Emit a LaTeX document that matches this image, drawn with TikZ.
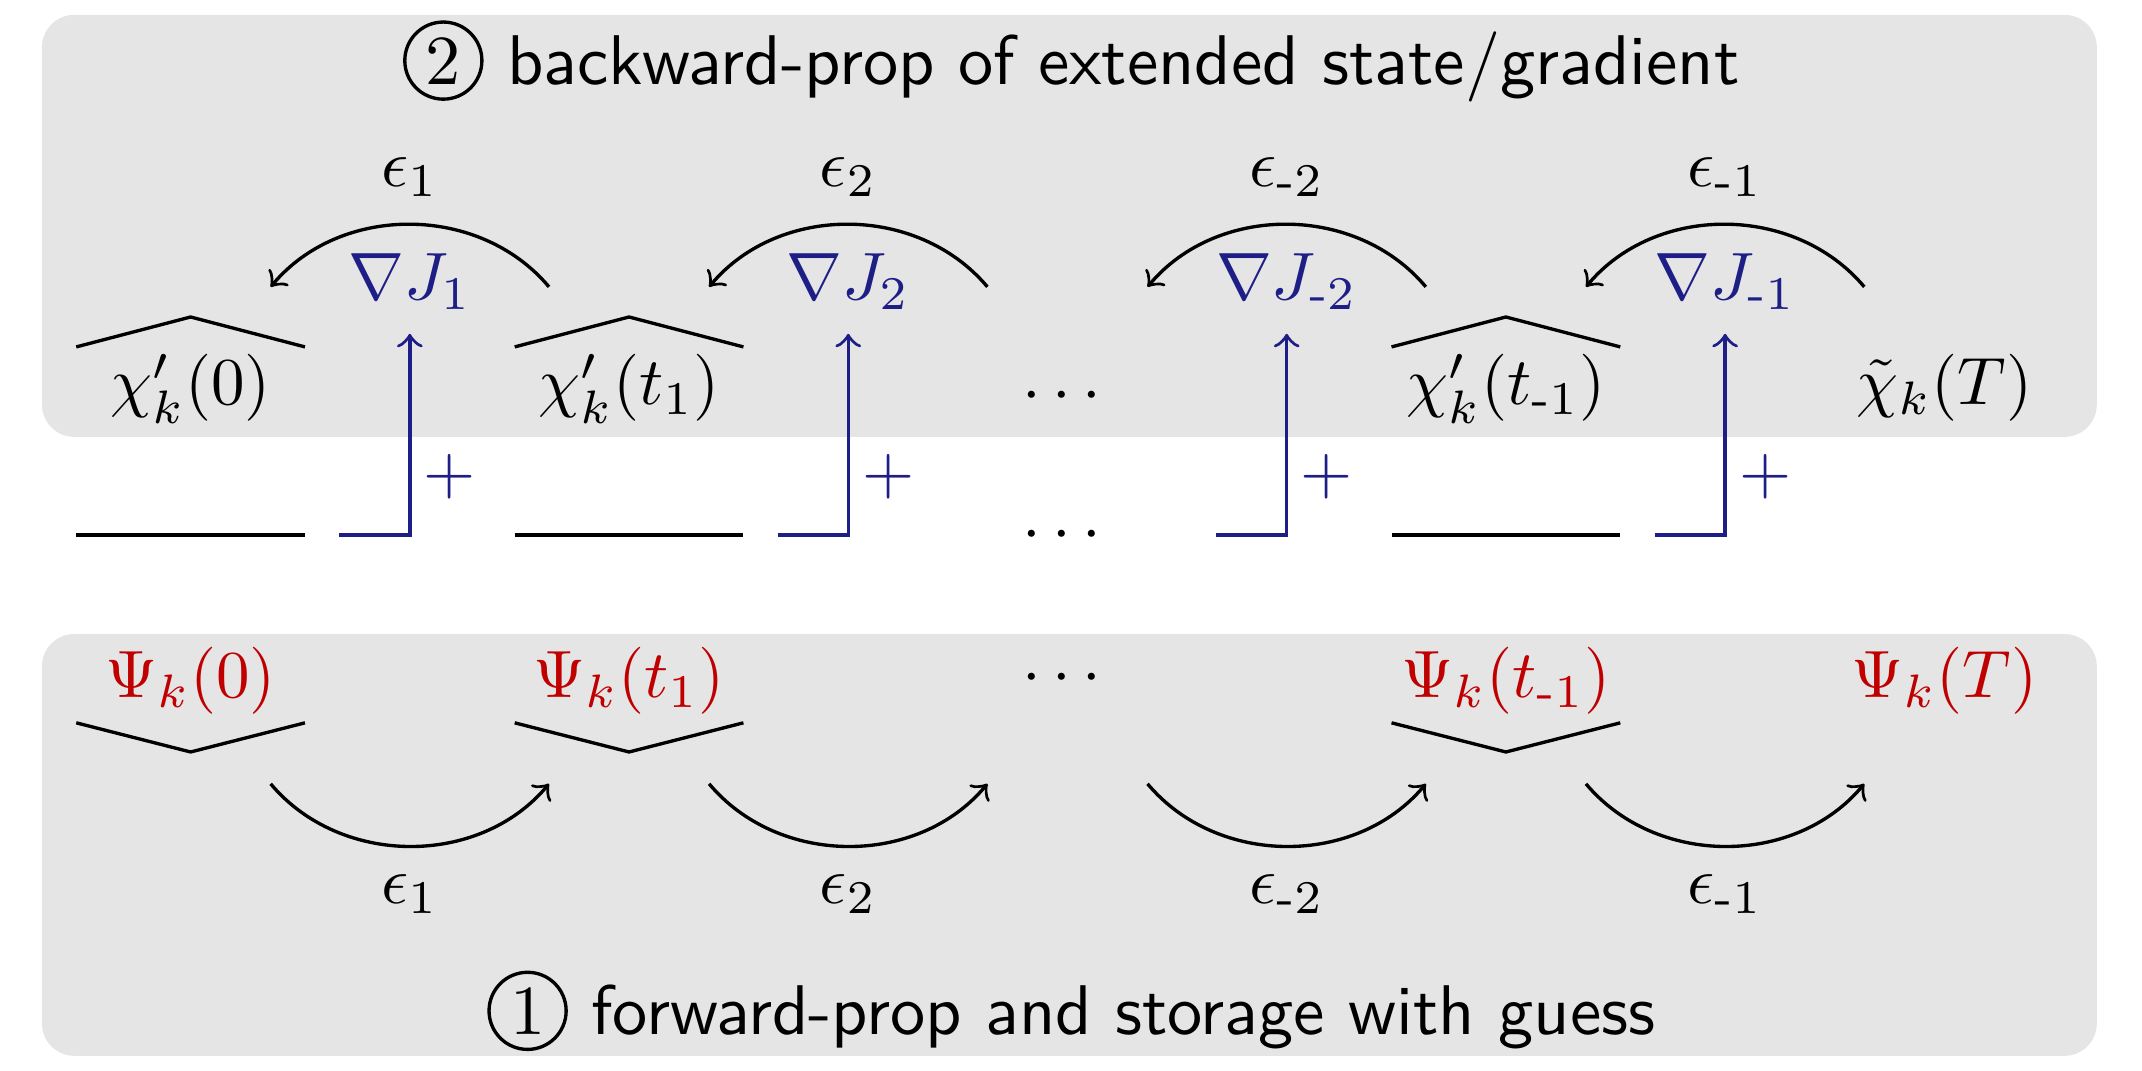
\documentclass[tikz,border=0pt]{standalone}
\usepackage{amsmath}
\definecolor{bleu}{RGB}{30,30,135}
\definecolor{rouge}{RGB}{192,0,0}
\tikzset{
  boite/.style={fill=black!10,rounded corners=0.17cm},
  titre/.style={font=\sffamily\fontsize{10.5}{12}\selectfont},
  every path/.style={line width=0.5pt},
}
\newcommand{\rond}[1]{\tikz[baseline=(r#1.base)]\node[draw,circle,inner sep=1pt,font=\rmfamily] (r#1) {#1};}

\begin{document}
\begin{tikzpicture}
  \useasboundingbox (0,0) rectangle (11.237,5.618);
  % les deux cadres
  \fill[boite] (0.22,3.326) rectangle (11.0,5.54);
  \fill[boite] (0.22,0.079) rectangle (11.0,2.292);
  \node[titre] (haut) at (5.62,5.298) {\rond{2} backward-prop of extended state/gradient};
  \node[titre] (bas) at (5.62,0.315) {\rond{1} forward-prop and storage with guess};

  % etats stockes
  \foreach \i/\t in {0/0,1/t_1,3/{t_{\text{-}1}}} {
    \node[anchor=base] (chi\i) at ({1+2.3*\i},3.494) {$\chi'_k(\t)$};
    \node[anchor=base,rouge] (psi\i) at ({1+2.3*\i},1.957) {$\Psi_k(\t)$};
    \draw ({1+2.3*\i-0.6},3.798) -- ({1+2.3*\i},3.955) -- ({1+2.3*\i+0.6},3.798); % chapeau
    \draw ({1+2.3*\i-0.6},1.826) -- ({1+2.3*\i},1.673) -- ({1+2.3*\i+0.6},1.826); % v
    \draw ({1+2.3*\i-0.6},2.812) -- +(1.2,0);
  }
  \node[anchor=base] (chi4) at (10.2,3.494) {$\tilde\chi_k(T)$};
  \node[anchor=base,rouge] (psi4) at (10.2,1.957) {$\Psi_k(T)$};
  \node[anchor=base] (pt1) at (5.6,3.458) {$\cdots$};
  \node[anchor=base] (pt2) at (5.6,2.729) {$\cdots$};
  \node[anchor=base] (pt3) at (5.6,1.979) {$\cdots$};

  % gradients et pas de temps
  \foreach \i/\e in {0/1,1/2,2/{\text{-}2},3/{\text{-}1}} {
    \node[bleu] (grad\i) at ({2.15+2.3*\i},4.139) {$\nabla J_{\e}$};
    \coordinate (b\i) at ({1.78+2.3*\i},2.812);
    \draw[bleu,->] (b\i) -| (grad\i.south);
    \node[bleu] (plus\i) at ({2.36+2.3*\i},3.116) {$+$};
    \node (eh\i) at ({2.15+2.3*\i},4.69) {$\epsilon_{\e}$};
    \node (eb\i) at ({2.15+2.3*\i},0.929) {$\epsilon_{\e}$};
  }
  \foreach \i in {0,...,4} {
    \coordinate (h\i) at ({1+2.3*\i},4.113);
    \coordinate (l\i) at ({1+2.3*\i},1.506);
  }
  \foreach \i/\j in {0/1,1/2,2/3,3/4} {
    \draw[->] ([xshift=-4.2mm]h\j) to[bend right=50] ([xshift=4.2mm]h\i);
    \draw[->] ([xshift=4.2mm]l\i) to[bend right=50] ([xshift=-4.2mm]l\j);
  }
\end{tikzpicture}
\end{document}
